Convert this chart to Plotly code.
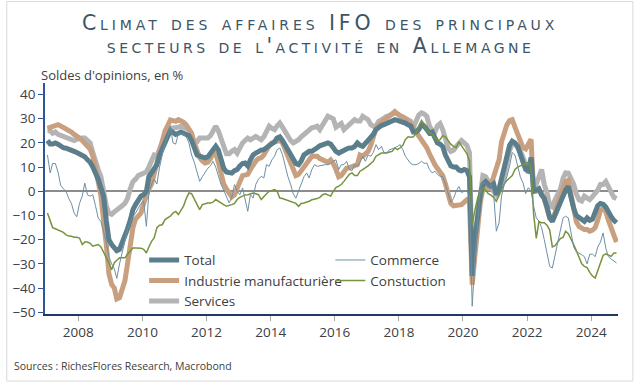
import pandas as pd
import plotly.graph_objects as go

# Monthly data, Jan 2007 - Oct 2024 (soldes d'opinions, %)
start_month = "2007-01"
n_months = 214

title_line1 = "Climat des affaires IFO des principaux"
title_line2 = "secteurs de l'activité en Allemagne"
y_title = "Soldes d'opinions, en %"
source_text = "Sources : RichesFlores Research, Macrobond"

total = [
    21, 19.5, 19.5, 20, 19.5, 18.5, 18, 17.8, 17.5, 17, 16.5, 16,
    15.5, 15, 14.3, 13, 12, 10, 8, 5, 1.5, -2, -12, -20,
    -22, -23.5, -24.5, -24, -21.5, -19, -15.5, -12, -7.6, -5.5, -3.5, -2,
    -1.4, 0, 6, 8, 9, 11, 15, 18, 20, 22.5, 25, 24.5,
    23.5, 24, 24.5, 24, 23.5, 23, 21, 18, 15, 14.5, 14, 13.8,
    14.2, 15.5, 17.5, 18.6, 17, 13, 9.5, 8, 7.5, 7.5, 8.5, 9,
    10.5, 11.5, 11.7, 10.5, 13, 15, 15.8, 16.5, 17, 17.2, 18, 18.8,
    19.5, 20.5, 22, 22.5, 21, 19, 16.5, 15, 13.5, 11.5, 11, 12.5,
    15, 16, 16.5, 16.5, 17, 18, 18.8, 19.2, 19.6, 20, 19.5, 18,
    16.5, 15.8, 16.5, 17.2, 17.5, 17.9, 17.9, 18.5, 20, 19, 18.6, 19.8,
    21, 22, 23.5, 25.5, 26.5, 27.2, 27.5, 28, 28.5, 29, 29.6, 29.3,
    29, 28.5, 28.2, 27.5, 27, 24.5, 24.5, 25.5, 27.5, 27, 25.5, 24,
    24.5, 22.5, 20, 19.5, 18.5, 15, 12.5, 10.5, 10, 10, 8.8, 8.5,
    9, 8.5, 6, -35, -20, -9, -2, 3, 4, 2.8, 2.1, 3,
    -1.4, 1, 5, 9.6, 14, 19, 20.7, 20, 18.6, 16, 12, 9,
    8.5, 14, 0, 0.5, 1, -1.5, -3, -6.5, -11, -12.5, -10, -7,
    -4, -2, 0.5, 2, -3, -7, -10, -11, -11.5, -12.4, -11, -12,
    -11.5, -9, -6, -5, -5.3, -6.5, -9, -10.5, -12, -13,
]

commerce = [
    15, 7.6, 11.5, 11.5, 8, 2.5, 1, 0, -3, -5, -9, -10.5,
    -5, -2, 3.4, -1.5, -2, -1.4, -6, -11, -12.5, -17, -21, -27,
    -30, -32, -36, -30, -25, -20, -16, -13, -10.5, -9, -7, -5,
    -4, -14.5, -1, 3, 5, 3, 10, 15, 20, 23, 26.9, 20,
    19.5, 24, 23.7, 23.4, 22.5, 20, 15, 12, 8, 4.1, 6, 8,
    9.5, 10.5, 12.4, 10, 6, 2.8, 0.5, -2, -4.8, -2.5, 2.8, 0,
    -1.4, 1.4, -2.8, -8.3, -1.4, -2.8, 2.8, 5, 6.2, 5.5, 11, 10.3,
    13, 14.5, 17.2, 17.9, 15.2, 10.3, 6.2, 3, -1, -2.8, 0, 2.8,
    6, 7.6, 5.5, 9, 11, 10.3, 10.5, 11, 11, 11, 11.5, 12.5,
    13, 9, 11, 11, 12.4, 9, 8.5, 11, 10.3, 12, 14.5, 12.4,
    15, 14.5, 16, 19.3, 17.2, 18.6, 16, 15.8, 17.2, 17.5, 17.9, 18.5,
    19.3, 17.2, 14.5, 13.1, 11.5, 11, 11, 11.5, 12.4, 11.5, 11.7, 9,
    7.6, 8.3, 7, 6.2, 6, 3, -1, -4.5, -3, 0, 2, -0.5,
    0, 0, -1.4, -47.5, -29, -12, 1.5, 4, 3, 1.5, 2.8, -1,
    -16.5, -13, -2, 2.8, 6, 10.5, 16, 15, 10.5, 6, 3.5, -1,
    1.5, 0, -6, -11, -12.3, -15, -20, -26, -31, -31.7, -26, -21,
    -16, -11, -10.3, -11, -17, -23, -25, -25.5, -26.2, -27, -30, -26,
    -26, -27, -23, -21, -17.2, -23.5, -27, -28, -29, -29.6,
]

industrie = [
    26, 26.5, 27, 27.5, 27.5, 27, 26.5, 25.5, 25, 24.5, 23.5, 23,
    22, 21, 20, 19, 17.5, 14.5, 10, 4, -2, -10, -22, -34,
    -38.5, -40, -44.5, -44, -40.5, -37, -30, -22, -15, -11.5, -10, -9,
    -5, -1, 1, 3, 7, 11, 16, 21, 25, 27, 29.5, 29.2,
    28.9, 29.6, 29.3, 28.5, 27.5, 26, 24, 20, 16, 14, 12.5, 11.7,
    12, 13.5, 16, 15.5, 12, 6.5, 3, 1, -1, -2.3, -1.5, 0.7,
    4, 6.5, 6.5, 7, 9, 11, 12.5, 13.5, 13.8, 15, 17.5, 19,
    20, 20.5, 21, 21, 20, 17, 14, 11, 8.5, 6.5, 7, 8.5,
    10, 11.5, 13, 14.5, 14.5, 14.5, 13.5, 13, 12, 12, 13, 11.5,
    9, 6, 6.5, 8, 9.5, 9.8, 10.3, 10.5, 11, 15, 14.5, 15.5,
    16.5, 19, 23, 26, 27.5, 28.5, 29, 30, 31, 32.4, 33, 32,
    31.5, 31, 30, 29, 28, 26.5, 24.5, 23, 21.5, 20, 18, 15.5,
    13, 11, 9.5, 8, 6.5, 3, -2, -5, -6, -6, -5.5, -5.5,
    -4.5, -3.5, -4, -38.6, -27, -13.5, -5, 1, 2.5, 1.5, 3, 6,
    9.5, 13, 20.5, 24, 27.5, 29.2, 29.6, 26.5, 24, 20.5, 18, 17.5,
    19.5, 21.5, 0, 0, 1, -1, -3, -7, -11, -11.5, -9, -5,
    -2, 1.5, 4, 4.5, -2, -8, -12.5, -14.5, -15.5, -15.8, -15.8, -16.5,
    -16, -15, -12, -8, -7, -8.5, -12, -15, -18, -21,
]

construction = [
    -9, -12, -15, -15.5, -16, -16.5, -17, -18, -18.5, -18.6, -19, -19,
    -19.3, -22, -21, -21, -21.5, -22.7, -22.5, -22, -23, -25, -27, -29.5,
    -32.4, -29.5, -28.5, -27.5, -27.5, -27.5, -26, -24.5, -23.4, -23.4, -23.4, -23.5,
    -24, -25.5, -23, -20.7, -19.3, -15, -14, -13.8, -11.7, -11, -10.3, -9,
    -8.3, -9.6, -8, -6, -3, -0.7, -1, -3.4, -6, -7.6, -5.5, -5,
    -4.8, -4.8, -4.5, -3.4, -4, -4.8, -5.5, -6.2, -6, -5.5, -5, -3.4,
    -2.5, -2, -1.5, -1.4, -1, -0.7, -1, -1.4, -3.4, -2, -1, 0,
    0.5, 0.7, 0, -2.8, -3, -3.4, -4, -4.1, -4.5, -5, -6.2, -5,
    -4.8, -4.5, -4.1, -3.5, -3.4, -3, -2.5, -1.4, -1, -1.4, -2, 0,
    1.5, 2.1, 2.8, 4.1, 5.5, 7, 7.6, 6.5, 6.5, 8.3, 9, 9.6,
    10.5, 11.5, 12.4, 14.5, 15, 15.8, 15.8, 15.8, 16.2, 16.5, 17.9, 17.2,
    18, 19, 21.3, 22.5, 22.3, 22.5, 24, 27, 29.3, 28, 25, 24.2,
    23.7, 22.3, 20.8, 21.3, 23, 22.5, 21, 19.5, 18.6, 18, 20.5, 19,
    17, 15.5, 12.5, -13.8, -8, -3, -0.5, 1.4, 0.5, -1, -1.6, -2.5,
    -4.1, -2, 0.5, 3, 4.5, 5.5, 6.5, 9, 10, 10.5, 11, 11.5,
    12, 10, -9, -19.5, -12.5, -13, -13, -14, -16, -23, -22.5, -21,
    -19.5, -19, -16.5, -17.5, -19.5, -22, -24.5, -27, -30, -31, -31.5, -33.5,
    -35, -35.8, -32.5, -29, -26.5, -25.8, -26.2, -26.9, -25.5, -25.5,
]

services = [
    25, 25, 24, 24.5, 23.5, 23, 22.5, 22.5, 22, 21.5, 21, 21.5,
    22, 22, 22, 21, 20, 16, 12, 9, 6, 0, -6, -9,
    -9.5, -8.5, -7.5, -6.5, -6, -5, -3, 1, 4, 5, 6.5, 7,
    7.5, 8, 10, 13, 15, 14.5, 18, 21, 23.5, 25, 26.2, 26.2,
    26.2, 26.5, 26.9, 26.5, 26.2, 25.5, 23, 20.5, 20.5, 22, 22, 22,
    22, 23, 24.5, 26.9, 25, 21, 18.6, 15.5, 15.5, 16.5, 17.2, 15.8,
    18, 20, 21, 22, 21.3, 22, 22.7, 22, 21.3, 22.5, 24.5, 26.9,
    26, 25.5, 27, 28.2, 26.5, 24.5, 22.5, 21, 20, 20.5, 21.3, 22.5,
    23.5, 24.8, 25.5, 26.2, 26.5, 26.9, 25.5, 27.5, 29.5, 31, 30.5, 30,
    26.5, 27, 28, 25.5, 26.5, 27.5, 28.5, 29.6, 29, 29, 31, 30.5,
    29.6, 27.5, 26.9, 27, 28.9, 29.5, 30.3, 31, 31.2, 31.7, 32.4, 32,
    31, 30.8, 30.3, 29.5, 28.9, 26.5, 29.5, 31.5, 32.4, 32, 31, 27,
    25, 24.5, 27, 28, 25.5, 22, 18, 16.5, 17, 18.5, 19.5, 21,
    20, 19, 16, -31, -19, -10, 1, 6.5, 6, 4, 1, 0,
    -1.4, 0.5, 3, 6.5, 13, 17, 19.5, 19.5, 18, 16.5, 14, 11,
    7.5, 10, 4, 3, 6.5, 9, 2.8, -0.5, -6, -6.5, -3.5, -1.4,
    1, 5.5, 7.6, 7.5, 5, 3, -1, -3.5, -4, -2, -2.8, -3.4,
    -2.2, -1, 0.5, 2.8, 2.8, 4, 1.5, -1, -2.5, -3,
]

dates = pd.date_range(start_month, periods=n_months, freq="MS") + pd.Timedelta(days=14)

series = [
    ("Services", services, "#b4b4b4", 5, "legend", 3),
    ("Industrie manufacturière", industrie, "#c9a07f", 5, "legend", 2),
    ("Total", total, "#5b7e8d", 5, "legend", 1),
    ("Constuction", construction, "#77933c", 1.5, "legend2", 2),
    ("Commerce", commerce, "#6e90a3", 1, "legend2", 1),
]

fig = go.Figure()
for name, vals, color, width, leg, rank in series:
    fig.add_trace(go.Scatter(
        x=dates, y=vals, name=name, mode="lines",
        line=dict(color=color, width=width),
        legend=leg, legendrank=rank,
    ))

txt = "#404040"
title_color = "#3d5566"
fig.update_layout(
    width=637, height=384,
    margin=dict(l=41, r=19, t=83, b=70),
    paper_bgcolor="white", plot_bgcolor="white",
    font=dict(family="Open Sans", size=13.5, color=txt),
    xaxis=dict(
        type="date", range=["2006-12-18", "2024-11-01"],
        tick0="2008-01-01", dtick="M24", tickformat="%Y",
        showgrid=False, zeroline=False,
        showline=True, linecolor="#203864", linewidth=1.5,
        ticks="outside", ticklen=5, tickcolor="#a6a6a6",
        tickfont=dict(size=13.5, color=txt),
    ),
    yaxis=dict(
        range=[-50.7, 44.75], dtick=10, tick0=0,
        showgrid=False,
        zeroline=True, zerolinecolor="#8c8c8c", zerolinewidth=1.5,
        showline=True, linecolor="#2f5597", linewidth=1.5,
        ticks="outside", ticklen=5, tickcolor="#2f5597",
        tickfont=dict(size=13.5, color=txt),
    ),
    legend=dict(
        x=0.173, y=0.30, xanchor="left", yanchor="top",
        bgcolor="rgba(0,0,0,0)", font=dict(size=13.5, color=txt),
        traceorder="normal",
    ),
    legend2=dict(
        x=0.498, y=0.30, xanchor="left", yanchor="top",
        bgcolor="rgba(0,0,0,0)", font=dict(size=13.5, color=txt),
        traceorder="normal",
    ),
    showlegend=True,
)

for line_text, ypos in [(title_line1, 1.2619), (title_line2, 1.1623)]:
    fig.add_annotation(
        text=line_text, xref="paper", yref="paper",
        x=(318.5 - 41) / 577, y=ypos, xanchor="center", yanchor="middle",
        showarrow=False,
        font=dict(family="DejaVu Sans", size=20.5, color=title_color, variant="small-caps"),
    )

fig.add_annotation(
    text=y_title, xref="paper", yref="paper",
    x=-0.0104, y=1.0346, xanchor="left", yanchor="middle", showarrow=False,
    font=dict(family="Open Sans", size=13, color=txt),
)
fig.add_annotation(
    text=source_text, xref="paper", yref="paper",
    x=-0.0572, y=-0.225, xanchor="left", yanchor="middle", showarrow=False,
    font=dict(family="Open Sans", size=10.5, color=txt),
)
fig.add_shape(
    type="rect", xref="paper", yref="paper",
    x0=-0.0667, x1=1.026, y0=-0.29, y1=1.3528,
    line=dict(color="#d9d9d9", width=1), fillcolor="rgba(0,0,0,0)", layer="below",
)

post_js = """
document.body.style.margin = '0';
function spaceTitle() {
  document.querySelectorAll('.annotation-text').forEach(function (t) {
    var s = t.textContent || '';
    if (s.indexOf('Climat') === 0) { t.style.letterSpacing = '3.9px'; }
    if (s.indexOf('secteurs') === 0) { t.style.letterSpacing = '3.5px'; }
  });
}
spaceTitle();
setTimeout(spaceTitle, 30);
var gdiv = document.getElementById('{plot_id}');
if (gdiv && gdiv.on) { gdiv.on('plotly_afterplot', spaceTitle); }
"""

fig.write_html("out.html", post_script=post_js, config={"displayModeBar": False})
